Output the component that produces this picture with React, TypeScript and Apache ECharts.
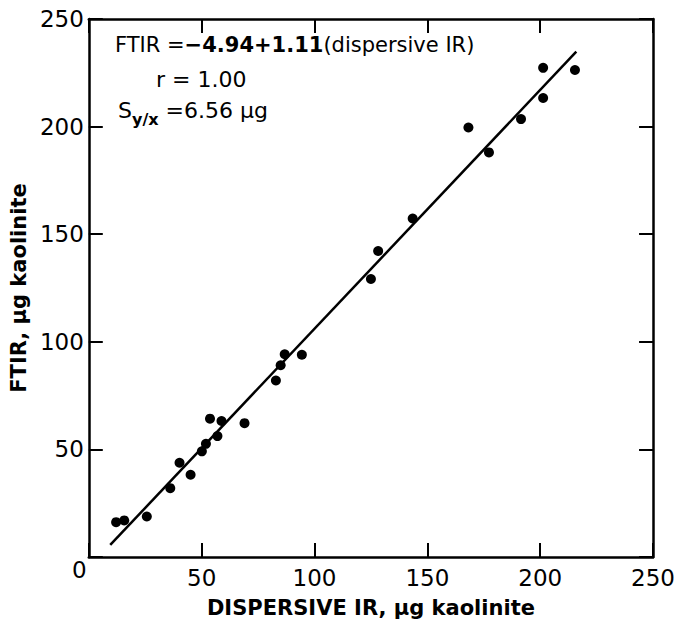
import React, { useEffect, useRef } from "react";
import * as echarts from "echarts";

const dispersiveIR = [12.1, 15.7, 25.7, 36.1, 40.2, 45.1, 50.1, 51.9, 53.7, 57.0, 58.8, 69.0, 82.9, 85.0, 86.8, 94.4, 125.0, 128.2, 143.5, 168.2, 177.3, 191.5, 201.3, 201.3, 215.4];
const ftir = [16.2, 17.0, 18.8, 32.0, 43.8, 38.2, 49.1, 52.6, 64.3, 56.2, 63.2, 62.2, 82.0, 89.1, 94.2, 94.0, 129.2, 142.2, 157.3, 199.6, 188.0, 203.5, 213.3, 227.3, 226.3];
const fitIntercept = -4.94;
const fitSlope = 1.11;
const fitRange = [9.5, 216];
const axisMin = 0;
const axisMax = 250;
const axisStep = 50;

const FONT = "'DejaVu Sans', sans-serif";

export default function App() {
  const ref = useRef<HTMLDivElement>(null);
  useEffect(() => {
    if (!ref.current) return;
    const chart = echarts.init(ref.current, null, { renderer: "svg" });
    const points = dispersiveIR.map((x, i) => [x, ftir[i]]);
    const fit = fitRange.map((x) => [x, fitIntercept + fitSlope * x]);
    const lineStyle = { color: "#000", width: 2.5 };
    const tick = { show: true, inside: true, length: 14, lineStyle: { color: "#000", width: 2 } };
    const baseAxis = {
      type: "value",
      min: axisMin,
      max: axisMax,
      interval: axisStep,
      splitLine: { show: false },
      axisLine: { show: true, onZero: false, lineStyle },
      axisTick: tick,
    };
    const label = {
      color: "#000",
      fontFamily: FONT,
      fontSize: 23,
      formatter: (v: number) => (v === 0 ? "" : String(v)),
    };
    const nameStyle = { color: "#000", fontFamily: FONT, fontSize: 21, fontWeight: 600 };
    chart.setOption({
      animation: false,
      grid: { left: 87, top: 19, width: 580, height: 538 },
      xAxis: [
        {
          ...baseAxis,
          position: "bottom",
          axisLabel: { ...label, margin: 9 },
          name: "DISPERSIVE IR, \u03bcg kaolinite",
          nameLocation: "middle",
          nameGap: 40,
          nameTextStyle: nameStyle,
        },
        { ...baseAxis, position: "top", axisLabel: { show: false } },
      ],
      yAxis: [
        {
          ...baseAxis,
          position: "left",
          axisLabel: { ...label, margin: 5 },
          name: "FTIR, \u03bcg kaolinite",
          nameLocation: "middle",
          nameGap: 53,
          nameTextStyle: nameStyle,
        },
        { ...baseAxis, position: "right", axisLabel: { show: false } },
      ],
      series: [
        {
          type: "scatter",
          data: points,
          symbol: "circle",
          symbolSize: 10,
          itemStyle: { color: "#000", opacity: 1 },
        },
        {
          type: "line",
          data: fit,
          symbol: "none",
          lineStyle: { color: "#000", width: 2.5 },
        },
      ],
      graphic: [
        {
          type: "text",
          left: 72,
          top: 558,
          style: { text: "0", fill: "#000", font: `23px ${FONT}` },
        },
        {
          type: "text",
          left: 115,
          top: 34,
          style: {
            text: "{a|FTIR =}{b|\u22124.94+1.11}{a|(dispersive IR)}",
            rich: {
              a: { fontFamily: FONT, fontSize: 21, fill: "#000" },
              b: { fontFamily: FONT, fontSize: 21, fontWeight: "bold", fill: "#000" },
            },
          },
        },
        {
          type: "text",
          left: 156,
          top: 68,
          style: { text: "r = 1.00", fill: "#000", font: `22px ${FONT}` },
        },
        {
          type: "text",
          left: 118,
          top: 99,
          style: {
            text: "{a|S}{s|y/x}{a| =6.56 \u03bcg}",
            rich: {
              a: { fontFamily: FONT, fontSize: 22, fill: "#000", verticalAlign: "top", lineHeight: 26 },
              s: { fontFamily: FONT, fontSize: 16, fontWeight: "bold", fill: "#000", padding: [12, 0, 0, 0], lineHeight: 26, verticalAlign: "top" },
            },
          },
        },
      ],
    });
    return () => chart.dispose();
  }, []);
  return <div ref={ref} style={{ width: 678, height: 625, position: "absolute", left: 0, top: 0 }} />;
}
